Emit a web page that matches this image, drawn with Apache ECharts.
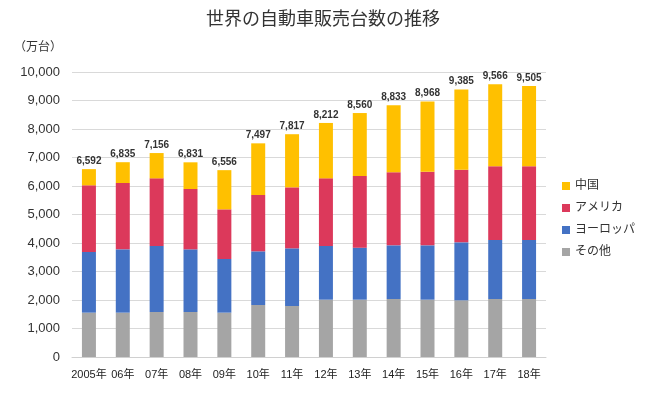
<!DOCTYPE html>
<html><head><meta charset="utf-8">
<script src="https://cdn.jsdelivr.net/npm/echarts@6/dist/echarts.min.js"></script>
<style>html,body{margin:0;padding:0;background:#fff}#c{width:650px;height:420px}</style>
</head><body><div id="c"></div>
<script>
const categories = ['2005年','06年','07年','08年','09年','10年','11年','12年','13年','14年','15年','16年','17年','18年'];
const other   = [1556,1556,1579,1579,1556,1825,1789,2012,2012,2035,2012,1988,2035,2035];
const europe  = [2128,2222,2316,2199,1883,1883,2024,1883,1824,1883,1906,2035,2070,2070];
const america = [2339,2327,2374,2117,1742,1976,2140,2374,2515,2562,2585,2550,2585,2585];
const china   = [569,730,887,936,1375,1813,1864,1943,2209,2353,2465,2812,2876,2815];
const totals  = [6592,6835,7156,6831,6556,7497,7817,8212,8560,8833,8968,9385,9566,9505];
const yTicks  = [0,1000,2000,3000,4000,5000,6000,7000,8000,9000,10000];

const fmt = v => String(v).replace(/\B(?=(\d{3})+(?!\d))/g, ',');
const font = '"Liberation Sans", "Noto Sans CJK JP", sans-serif';
const chart = echarts.init(document.getElementById('c'));
const bw = 14;
chart.setOption({
  animation: false,
  textStyle: { fontFamily: font },
  title: { text: '世界の自動車販売台数の推移', left: 318, top: 6, textAlign: 'center',
    textStyle: { fontSize: 18, fontWeight: 'normal', color: '#333', fontFamily: font } },
  legend: {
    orient: 'vertical', left: 557, top: 175, itemWidth: 8, itemHeight: 8, itemGap: 10,
    icon: 'rect',
    data: ['中国','アメリカ','ヨーロッパ','その他'],
    textStyle: { fontSize: 12, color: '#333', fontFamily: font }
  },
  grid: { left: 72, right: 104, top: 72, bottom: 63 },
  xAxis: {
    type: 'category', data: categories,
    axisLine: { lineStyle: { color: '#d0d0d0' } },
    axisTick: { show: false },
    axisLabel: { interval: 0, fontSize: 11, color: '#222', margin: 12, fontFamily: font }
  },
  yAxis: {
    type: 'value', min: 0, max: 10000, interval: 1000,
    name: '（万台）', nameLocation: 'end', nameGap: 18,
    nameTextStyle: { fontSize: 12, color: '#333', align: 'right', padding: [0, 10, 0, 0], fontFamily: font },
    axisLine: { show: false }, axisTick: { show: false },
    splitLine: { lineStyle: { color: '#d9d9d9' } },
    axisLabel: { fontSize: 13, color: '#333', margin: 12, fontFamily: font,
      formatter: v => yTicks.includes(v) ? fmt(v) : '' }
  },
  series: [
    { name: 'その他', type: 'bar', stack: 't', barWidth: bw, data: other, itemStyle: { color: '#A5A5A5' } },
    { name: 'ヨーロッパ', type: 'bar', stack: 't', barWidth: bw, data: europe, itemStyle: { color: '#4472C4' } },
    { name: 'アメリカ', type: 'bar', stack: 't', barWidth: bw, data: america, itemStyle: { color: '#DC395B' } },
    { name: '中国', type: 'bar', stack: 't', barWidth: bw, data: china, itemStyle: { color: '#FFC000' },
      label: { show: true, position: 'top', distance: 3, fontSize: 10, fontWeight: 'bold', color: '#333', fontFamily: font,
        formatter: p => fmt(totals[p.dataIndex]) } }
  ]
});
</script></body></html>
